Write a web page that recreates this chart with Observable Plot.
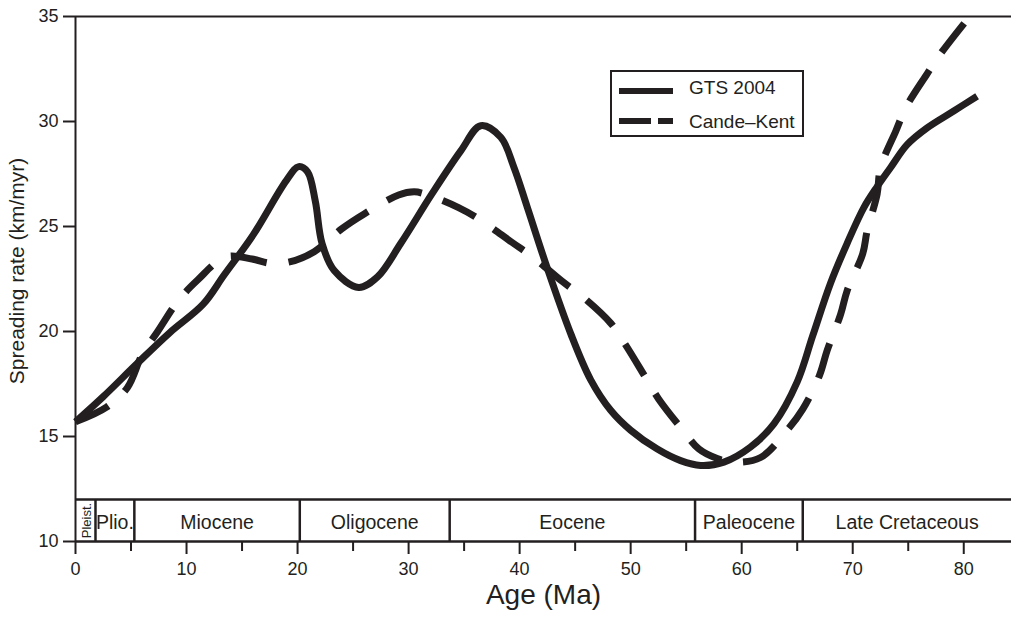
<!DOCTYPE html>
<html>
<head>
<meta charset="utf-8">
<script src="https://cdn.jsdelivr.net/npm/d3@7"></script>
<script src="https://cdn.jsdelivr.net/npm/@observablehq/plot@0.6"></script>
<style>
  html, body { margin: 0; padding: 0; background: #fff; }
  #wrap { position: relative; width: 1011px; height: 619px; font-family: "Liberation Sans", Arial, Helvetica, sans-serif; color: #231f20; }
  #legend { position: absolute; left: 610px; top: 70px; }
</style>
</head>
<body>
<div id="wrap"></div>
<script>
// Spreading rate through time under two geomagnetic time scales
const gtsAge  = [0, 2.5, 5.5, 8.5, 11.5, 13.4, 16.0, 19.0, 20.1, 20.9, 21.6, 22.2, 23.3, 25.5, 27.2, 29.3, 32.1, 34.7, 36.5, 38.3, 39.5, 40.7, 42.5, 44.6, 46.4, 48.2, 50.0, 52.4, 54.5, 56.3, 58.4, 60.8, 62.9, 65.0, 66.4, 68.0, 69.5, 71.0, 72.2, 73.4, 74.9, 76.7, 79.1, 81.2];
const gtsRate = [15.7, 16.9, 18.45, 19.95, 21.3, 22.7, 24.6, 27.2, 27.85, 27.6, 26.2, 24.2, 22.9, 22.1, 22.6, 24.2, 26.55, 28.6, 29.8, 29.25, 27.8, 25.9, 23.0, 19.9, 17.7, 16.25, 15.3, 14.4, 13.85, 13.62, 13.78, 14.5, 15.6, 17.6, 19.8, 22.3, 24.2, 25.9, 26.9, 27.8, 28.9, 29.7, 30.5, 31.2];

const ckAge  = [0, 2.8, 4.7, 6.0, 7.4, 9.3, 11.0, 13.5, 15.9, 17.5, 19.2, 21.5, 24.0, 26.0, 29.1, 30.5, 31.4, 34.5, 36.5, 39.3, 41.3, 43.8, 45.8, 48.2, 49.5, 51.35, 52.5, 54.7, 56.15, 57.8, 59.3, 61.7, 64.1, 65.5, 67.0, 67.7, 68.9, 69.5, 70.9, 71.3, 72.2, 72.5, 73.9, 74.8, 76.7, 77.9, 80.3];
const ckRate = [15.7, 16.4, 17.35, 18.9, 20.0, 21.5, 22.45, 23.55, 23.45, 23.25, 23.3, 23.8, 24.9, 25.6, 26.5, 26.65, 26.56, 25.9, 25.3, 24.25, 23.5, 22.4, 21.6, 20.4, 19.4, 17.8, 16.8, 15.3, 14.4, 13.95, 13.78, 14.0, 15.3, 16.3, 17.9, 19.1, 20.8, 21.95, 23.7, 24.8, 26.55, 27.8, 29.57, 30.68, 32.27, 33.22, 34.85];

// Geological epochs (Ma)
const epochNames  = ["Pleist.", "Plio.", "Miocene", "Oligocene", "Eocene", "Paleocene", "Late Cretaceous"];
const epochStarts = [0, 1.8, 5.3, 20.2, 33.7, 55.8, 65.5];
const epochEnds   = [1.8, 5.3, 20.2, 33.7, 55.8, 65.5, 84.3];

const xMajorTicks = [0, 10, 20, 30, 40, 50, 60, 70, 80];
const xMinorTicks = [5, 15, 25, 35, 45, 55, 65, 75];
const yTicks = [10, 15, 20, 25, 30, 35];

const ink = "#231f20";
const gts = gtsAge.map((a, i) => ({age: a, rate: gtsRate[i]}));
const ck = ckAge.map((a, i) => ({age: a, rate: ckRate[i]}));
const epochs = epochNames.map((n, i) => ({name: n, start: epochStarts[i], end: epochEnds[i], mid: (epochStarts[i] + epochEnds[i]) / 2}));
const xMax = epochEnds[epochEnds.length - 1];

const chart = Plot.plot({
  width: 1011,
  height: 619,
  marginLeft: 75,
  marginRight: 0,
  marginTop: 16,
  marginBottom: 78,
  style: {fontFamily: "'Liberation Sans', Arial, Helvetica, sans-serif", color: ink, background: "#fff", overflow: "visible"},
  x: {domain: [0, xMax]},
  y: {domain: [10, 35]},
  marks: [
    // time-scale band
    Plot.ruleX(epochStarts.slice(1), {y1: 10, y2: 12, stroke: ink, strokeWidth: 2.5}),
    Plot.ruleY([12], {stroke: ink, strokeWidth: 2.5}),
    Plot.text(epochs.filter(d => d.name !== "Pleist."), {x: "mid", y: 11, text: "name", fontSize: 19.5, dy: 2, fill: ink}),
    Plot.text(epochs.filter(d => d.name === "Pleist."), {x: "mid", y: 11, text: "name", fontSize: 13, rotate: -90, dx: 1, fill: ink}),
    // frame lines
    Plot.ruleY([35], {stroke: ink, strokeWidth: 2}),
    Plot.ruleY([10], {stroke: ink, strokeWidth: 2.5}),
    Plot.ruleX([0], {y1: 10, y2: 35, stroke: ink, strokeWidth: 2}),
    // axes
    Plot.axisX({ticks: xMajorTicks, tickSize: 13, tickPadding: 8, fontSize: 18, strokeWidth: 2, stroke: ink, label: null}),
    Plot.axisX({ticks: xMinorTicks, tickSize: 10, tickFormat: () => "", strokeWidth: 2, stroke: ink, label: null}),
    Plot.axisY({ticks: yTicks, tickSize: 12, tickPadding: 5, fontSize: 18, strokeWidth: 2, stroke: ink, label: null}),
    Plot.text(["Age (Ma)"], {frameAnchor: "bottom", dy: 62, fontSize: 28, fill: ink}),
    Plot.text(["Spreading rate (km/myr)"], {frameAnchor: "left", textAnchor: "middle", rotate: -90, dx: -58, dy: -8, fontSize: 21, fill: ink}),
    // series
    Plot.line(ck, {x: "age", y: "rate", curve: "catmull-rom", stroke: ink, strokeWidth: 7, strokeDasharray: "36.6,22", strokeLinecap: "butt"}),
    Plot.line(gts, {x: "age", y: "rate", curve: "catmull-rom", stroke: ink, strokeWidth: 7, strokeLinecap: "butt", strokeLinejoin: "round"})
  ]
});

const wrap = document.getElementById("wrap");
wrap.appendChild(chart);

// legend box
const legend = document.createElement("div");
legend.id = "legend";
legend.innerHTML = `
<svg width="194" height="67" style="display:block">
  <rect x="1" y="1" width="192" height="65" fill="#fff" stroke="${ink}" stroke-width="2"/>
  <line x1="9" x2="63" y1="21" y2="21" stroke="${ink}" stroke-width="6"/>
  <line x1="9" x2="41" y1="51" y2="51" stroke="${ink}" stroke-width="6"/>
  <line x1="48" x2="63" y1="51" y2="51" stroke="${ink}" stroke-width="6"/>
  <text x="79" y="24" font-size="19" fill="${ink}" font-family="'Liberation Sans', Arial, sans-serif">GTS 2004</text>
  <text x="79" y="58" font-size="19" fill="${ink}" font-family="'Liberation Sans', Arial, sans-serif">Cande–Kent</text>
</svg>`;
wrap.appendChild(legend);
</script>
</body>
</html>
